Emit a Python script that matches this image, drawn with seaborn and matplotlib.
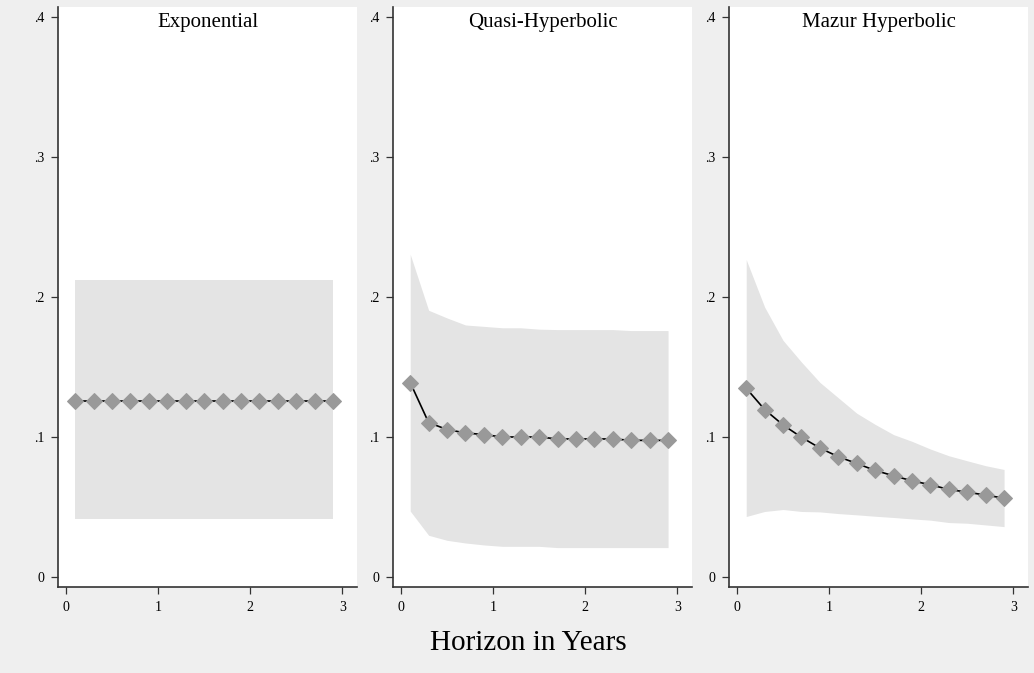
import numpy as np
import pandas as pd
import seaborn as sns
import matplotlib.pyplot as plt

# horizon grid (years)
horizon = [0.1, 0.3, 0.5, 0.7, 0.9, 1.1, 1.3, 1.5, 1.7, 1.9, 2.1, 2.3, 2.5, 2.7, 2.9]

# Exponential
exp_est = [0.1257] * 15
exp_lo = [0.0412] * 15
exp_hi = [0.2121] * 15

# Quasi-hyperbolic
qh_est = [0.1389, 0.1103, 0.1053, 0.1029, 0.1017, 0.1000, 0.1000, 0.1000,
          0.0986, 0.0986, 0.0986, 0.0986, 0.0976, 0.0976, 0.0976]
qh_lo = [0.0471, 0.0298, 0.0262, 0.0243, 0.0229, 0.0219, 0.0219, 0.0219,
         0.0210, 0.0210, 0.0210, 0.0210, 0.0210, 0.0210, 0.0210]
qh_hi = [0.2305, 0.1905, 0.1850, 0.1800, 0.1790, 0.1780, 0.1780, 0.1770,
         0.1767, 0.1767, 0.1767, 0.1767, 0.1760, 0.1760, 0.1760]

# Mazur hyperbolic
mh_est = [0.1348, 0.1196, 0.1086, 0.0998, 0.0921, 0.0859, 0.0811, 0.0761,
          0.0723, 0.0687, 0.0659, 0.0625, 0.0606, 0.0585, 0.0563]
mh_lo = [0.0432, 0.0468, 0.0482, 0.0468, 0.0465, 0.0453, 0.0444, 0.0434,
         0.0425, 0.0415, 0.0406, 0.0389, 0.0384, 0.0372, 0.0360]
mh_hi = [0.2267, 0.1928, 0.1690, 0.1535, 0.1390, 0.1280, 0.1170, 0.1090,
         0.1017, 0.0969, 0.0914, 0.0866, 0.0830, 0.0795, 0.0768]

titles = ["Exponential", "Quasi-Hyperbolic", "Mazur Hyperbolic"]
panels = [(exp_est, exp_lo, exp_hi), (qh_est, qh_lo, qh_hi), (mh_est, mh_lo, mh_hi)]

sns.set_theme(style="ticks")
plt.rcParams["font.family"] = ["Liberation Serif", "DejaVu Serif"]
plt.rcParams["text.color"] = "black"
plt.rcParams["xtick.labelcolor"] = "black"
plt.rcParams["ytick.labelcolor"] = "black"

bg = "#efefef"
fig = plt.figure(figsize=(10.34, 6.73), dpi=100, facecolor=bg)

lefts = [58, 393, 729]
width = 299
for left, title, (est, lo, hi) in zip(lefts, titles, panels):
    ax = fig.add_axes([left / 1034, 1 - 587 / 673, width / 1034, 580 / 673])
    ax.set_facecolor("white")
    df = pd.DataFrame({"h": horizon, "est": est})
    ax.fill_between(horizon, lo, hi, color="#e4e4e4", linewidth=0)
    sns.lineplot(data=df, x="h", y="est", ax=ax, color="black", linewidth=1.2,
                 marker="D", markersize=8, markerfacecolor="#999999",
                 markeredgecolor="#999999")
    ax.set_xlim(-0.087, 3.16)
    ax.set_ylim(-0.00714, 0.4071)
    ax.set_xticks([0, 1, 2, 3])
    ax.set_yticks([0, 0.1, 0.2, 0.3, 0.4])
    ax.set_yticklabels(["0", ".1", ".2", ".3", ".4"])
    ax.set_xlabel("")
    ax.set_ylabel("")
    ax.text(0.5, 0.974, title, transform=ax.transAxes, ha="center", va="center",
            fontsize=15, color="black")
    for s in ["top", "right"]:
        ax.spines[s].set_visible(False)
    for s in ["left", "bottom"]:
        ax.spines[s].set_color("#333333")
        ax.spines[s].set_linewidth(1.2)
    ax.tick_params(length=5, width=0.9, color="#333333", labelsize=10, pad=5)

fig.text(528 / 1034, 1 - 643 / 673, "Horizon in Years", ha="center", va="center",
         fontsize=21, color="black")

fig.savefig("out.png", dpi=100, facecolor=bg)
